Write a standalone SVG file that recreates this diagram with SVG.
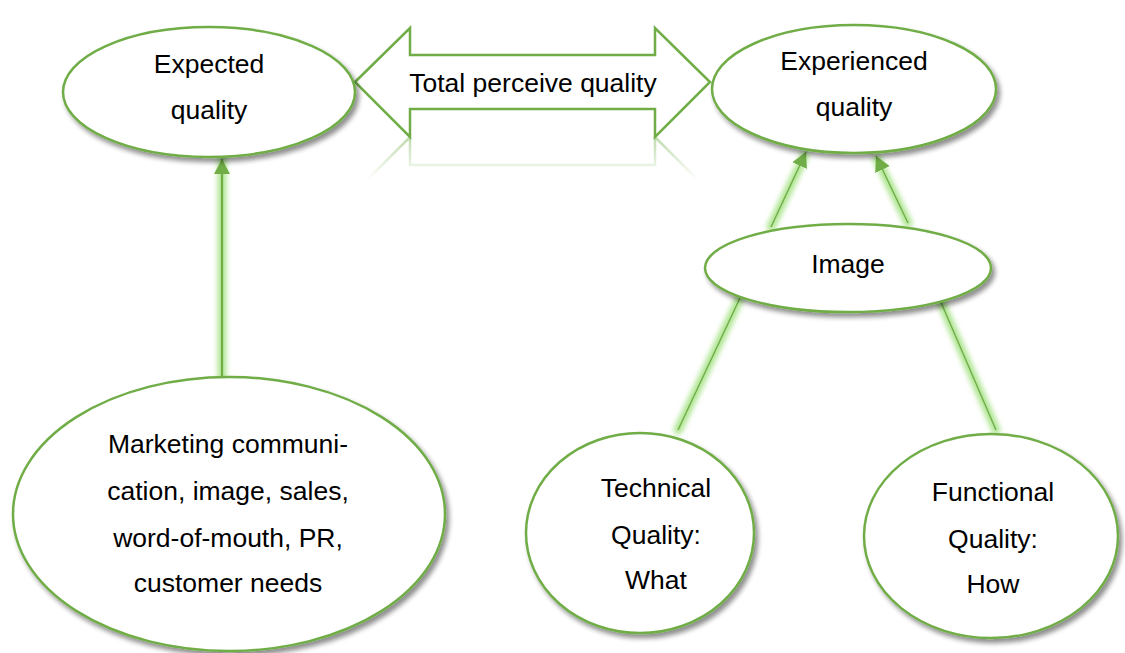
<svg xmlns="http://www.w3.org/2000/svg" width="1125" height="653" viewBox="0 0 1125 653">
<defs>
<style>
.node{fill:#fff;stroke:#70ad47;stroke-width:2.5;filter:url(#shadow)}
.t{font-family:"Liberation Sans",Arial,sans-serif;font-size:26.5px;fill:#000;text-anchor:middle}
.glow{stroke:#9ee07a;stroke-width:9;stroke-linecap:round;fill:none;opacity:0.8;filter:url(#blur)}
.ln{stroke:#70ad47;fill:none}
</style>
<filter id="shadow" x="-20%" y="-20%" width="140%" height="150%">
<feGaussianBlur in="SourceAlpha" stdDeviation="2.5"/>
<feOffset dx="3" dy="4" result="o"/>
<feComponentTransfer><feFuncA type="linear" slope="0.45"/></feComponentTransfer>
<feMerge><feMergeNode/><feMergeNode in="SourceGraphic"/></feMerge>
</filter>
<filter id="blur" filterUnits="userSpaceOnUse" x="0" y="0" width="1125" height="653">
<feGaussianBlur stdDeviation="2.5"/>
</filter>
<marker id="arr" markerUnits="userSpaceOnUse" markerWidth="18" markerHeight="18" refX="15" refY="8" orient="auto">
<path d="M0,0 L15,8 L0,16 Z" fill="#70ad47"/>
</marker>
<linearGradient id="fade" x1="0" y1="137" x2="0" y2="180" gradientUnits="userSpaceOnUse">
<stop offset="0" stop-color="#fff" stop-opacity="0.45"/>
<stop offset="1" stop-color="#fff" stop-opacity="0"/>
</linearGradient>
<mask id="refl" maskUnits="userSpaceOnUse" x="0" y="137" width="1125" height="60">
<rect x="0" y="137" width="1125" height="60" fill="url(#fade)"/>
</mask>
</defs>
<rect width="1125" height="653" fill="#fff"/>

<g id="connectors">
<line class="glow" x1="222" y1="378" x2="222" y2="160"/>
<line class="glow" x1="771" y1="227" x2="805" y2="155"/>
<line class="glow" x1="908" y1="223" x2="877" y2="159"/>
<line class="glow" x1="678" y1="430" x2="740" y2="298"/>
<line class="glow" x1="996" y1="430" x2="940" y2="300"/>
<line class="ln" stroke-width="2.2" x1="222" y1="378" x2="222" y2="159" marker-end="url(#arr)"/>
<line class="ln" stroke-width="1.4" x1="771" y1="227" x2="806" y2="152" marker-end="url(#arr)"/>
<line class="ln" stroke-width="1.4" x1="908" y1="223" x2="876" y2="156" marker-end="url(#arr)"/>
<line class="ln" stroke-width="1.4" x1="678" y1="430" x2="740" y2="298"/>
<line class="ln" stroke-width="1.4" x1="996" y1="430" x2="940" y2="300"/>
</g>

<g id="total-perceive-quality">
<g mask="url(#refl)">
<polygon transform="translate(0,274) scale(1,-1)" points="355,82 410,28 410,55 655,55 655,28 710,82 655,137 655,109 410,109 410,137" fill="#fff" stroke="#70ad47" stroke-width="2.5"/>
</g>
<polygon points="355,82 410,28 410,55 655,55 655,28 710,82 655,137 655,109 410,109 410,137" fill="#fff" stroke="#70ad47" stroke-width="2.5"/>
<text class="t" x="533" y="92">Total perceive quality</text>
</g>

<g id="expected-quality">
<ellipse class="node" cx="209" cy="92" rx="146" ry="65"/>
<text class="t" x="209" y="73">Expected</text>
<text class="t" x="209" y="119">quality</text>
</g>

<g id="experienced-quality">
<ellipse class="node" cx="854" cy="89" rx="142" ry="64"/>
<text class="t" x="854" y="70">Experienced</text>
<text class="t" x="854" y="116">quality</text>
</g>

<g id="image">
<ellipse class="node" cx="848" cy="268" rx="143" ry="44"/>
<text class="t" x="848" y="273">Image</text>
</g>

<g id="marketing">
<ellipse class="node" cx="229" cy="514" rx="216" ry="137"/>
<text class="t" x="228" y="453">Marketing communi-</text>
<text class="t" x="228" y="500">cation, image, sales,</text>
<text class="t" x="228" y="547">word-of-mouth, PR,</text>
<text class="t" x="228" y="592">customer needs</text>
</g>

<g id="technical-quality">
<ellipse class="node" cx="640" cy="533" rx="114" ry="100"/>
<text class="t" x="656" y="497">Technical</text>
<text class="t" x="656" y="544">Quality:</text>
<text class="t" x="656" y="589">What</text>
</g>

<g id="functional-quality">
<ellipse class="node" cx="991" cy="536" rx="127" ry="102"/>
<text class="t" x="993" y="501">Functional</text>
<text class="t" x="993" y="548">Quality:</text>
<text class="t" x="993" y="593">How</text>
</g>
</svg>
